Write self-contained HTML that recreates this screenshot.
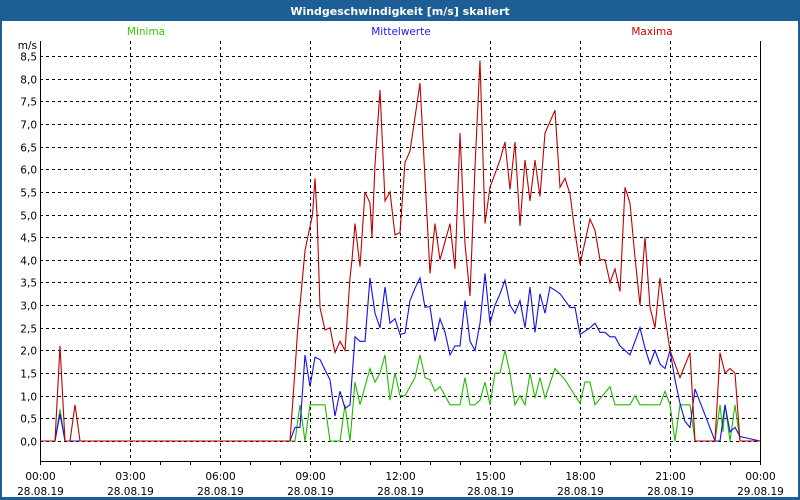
<!DOCTYPE html>
<html><head><meta charset="utf-8"><style>
html,body{margin:0;padding:0;width:800px;height:500px;overflow:hidden;background:#fff;}
svg{display:block;font-family:"DejaVu Sans","Liberation Sans",sans-serif;}
</style></head><body>
<svg id="chart" width="800" height="500">
<rect x="0" y="0" width="800" height="500" fill="#1e5e96"/>
<rect x="2" y="21" width="796" height="476" fill="#fff"/>
<text x="400" y="15" text-anchor="middle" fill="#fff" font-size="11" font-weight="bold">Windgeschwindigkeit [m/s] skaliert</text>
<text x="146" y="35" text-anchor="middle" fill="#33cc00" font-size="10.5">Minima</text>
<text x="401" y="35" text-anchor="middle" fill="#2020ff" font-size="10.5">Mittelwerte</text>
<text x="652" y="35" text-anchor="middle" fill="#cc0000" font-size="10.5">Maxima</text>
<text x="37" y="49" text-anchor="end" fill="#000" font-size="10.5">m/s</text>
<g id="grid"></g>
<g id="axes"></g>
<g id="series"></g>
</svg>
<script>
// time in 10-minute slots since 28.08.19 00:00
const yTicks = ["0,0","0,5","1,0","1,5","2,0","2,5","3,0","3,5","4,0","4,5","5,0","5,5","6,0","6,5","7,0","7,5","8,0","8,5"];
const xTickTimes = ["00:00","03:00","06:00","09:00","12:00","15:00","18:00","21:00","00:00"];
const xTickDates = ["28.08.19","28.08.19","28.08.19","28.08.19","28.08.19","28.08.19","28.08.19","28.08.19","29.08.19"];

const maxSlots = [0,3,4,5,6,7,8,50,51,51.5,53,54.5,55,55.4,56,57,58,59,60,61,62,62.4,63,64,65,66,66.4,67,68,69,70,71,72,73,74,75,76,77,78,79,80,81,82,83,84,85,86,87,88,89,90,91,92,93,94,95,96,97,98,99,100,101,102,103,104,105,106,107,108,109,110,111,112,113,114,115,116,117,118,119,120,121,122,123,124,125,126,128,130,131,135,136,137,138,139,140,144];
const maxVals  = [0,0,2.1,0,0,0.8,0,0,1.57,2.4,4.2,5.0,5.8,5.0,2.95,2.45,2.5,1.95,2.2,2.0,3.6,4.0,4.8,3.85,5.5,5.25,4.5,6.1,7.75,5.3,5.5,4.55,4.6,6.15,6.4,7.15,7.9,5.8,3.7,4.8,4.0,4.4,4.8,3.8,6.8,4.35,3.2,6.05,8.4,4.8,5.6,5.9,6.2,6.6,5.55,6.6,4.75,6.2,5.3,6.2,5.4,6.8,7.05,7.3,5.6,5.8,5.45,4.6,3.9,4.4,4.9,4.65,4.0,4.0,3.5,3.8,3.3,5.6,5.25,4.05,3.0,4.5,2.95,2.5,3.6,2.75,2.0,1.4,1.95,0,0,1.95,1.5,1.6,1.5,0,0];

const avgSlots = [0,3,4,5,50,51,52,53,54,55,56,57,58,59,60,61,62,63,64,65,66,67,68,69,70,71,72,73,74,75,76,77,78,79,80,81,82,83,84,85,86,87,88,89,90,91,92,93,94,95,96,97,98,99,100,101,102,103,104,105,106,107,108,110,111,112,113,114,115,116,117,118,119,120,121,122,123,124,125,126,127,128,129,130,131,135,136,137,138,139,140,144];
const avgVals  = [0,0,0.6,0,0,0.3,0.3,1.9,1.2,1.85,1.8,1.57,1.35,0.55,1.1,0.72,0.8,2.3,2.2,2.2,3.6,2.82,2.5,3.4,2.6,2.7,2.35,2.38,3.1,3.37,3.6,2.95,2.97,2.2,2.7,2.4,1.9,2.1,2.1,3.1,2.2,2.0,2.6,3.7,2.6,3.0,3.25,3.55,3.0,2.82,3.1,2.5,3.4,2.4,3.25,2.82,3.4,3.33,3.25,3.1,2.95,2.95,2.35,2.5,2.6,2.4,2.4,2.3,2.3,2.1,2.0,1.9,2.2,2.5,2.05,1.7,2.0,1.7,1.6,2.0,1.35,0.83,0.43,0.3,1.15,0,0,0.8,0.2,0.3,0.1,0,0];

const minSlots = [0,3,4,5,51,52,53,54,57,58,60,61,62,63,64,66,67,68,69,70,71,72,73,75,76,77,78,79,80,82,84,85,86,87,88,89,90,91,92,93,94,95,96,97,98,99,100,101,103,105,108,109,110,111,114,115,118,119,120,122,124,125,126,127,128,129,130,131,135,136,136.6,137,138,139,140,144];
const minVals  = [0,0,0.7,0,0,0.8,0,0.8,0.8,0,0,0.8,0,1.3,0.8,1.6,1.3,1.5,1.9,0.9,1.5,1.0,1.0,1.4,1.9,1.4,1.35,1.1,1.2,0.8,0.8,1.4,0.8,0.8,0.9,1.3,0.8,1.5,1.5,2.0,1.5,0.8,1.0,0.8,1.5,0.95,1.4,0.95,1.6,1.35,0.83,1.3,1.3,0.8,1.2,0.8,0.8,1.0,0.8,0.8,0.8,1.1,0.8,0,0.8,0.8,0.8,0,0,0.8,0.2,0.8,0,0.8,0,0];

const NS = "http://www.w3.org/2000/svg";
const X0 = 40, X1 = 760, Y0 = 441, PER = 45.3;
function xScale(slot){ return X0 + slot * (X1 - X0) / 144; }
function yScale(v){ return Y0 - v * PER; }
function mk(tag, attrs, parent){
  const e = document.createElementNS(NS, tag);
  for (const k in attrs) e.setAttribute(k, attrs[k]);
  parent.appendChild(e); return e;
}
const grid = document.getElementById('grid');
const axes = document.getElementById('axes');
const series = document.getElementById('series');

yTicks.forEach((t, i) => {
  const y = Math.round(yScale(i * 0.5)) + 0.5;
  const l = mk('line', {x1: X0, x2: X1, y1: y, y2: y, stroke: '#000', 'stroke-width': 1, 'stroke-dasharray': '3,3'}, grid);
  
  
  const tx = mk('text', {x: 37, y: y + 4, 'text-anchor': 'end', 'font-size': 10.5, fill: '#000'}, axes);
  tx.textContent = t;
  
  
});
xTickTimes.forEach((t, i) => {
  const x = Math.round(xScale(i * 18)) + 0.5;
  if (i > 0 && i < 8) {
    const l = mk('line', {x1: x, x2: x, y1: 41, y2: 461, stroke: '#000', 'stroke-width': 1, 'stroke-dasharray': '3,3'}, grid);
    
    
  }
  const a = mk('text', {x: x, y: 480, 'text-anchor': 'middle', 'font-size': 10.5, fill: '#000'}, axes);
  a.textContent = t;
  
  
  const b = mk('text', {x: x, y: 495, 'text-anchor': 'middle', 'font-size': 10.5, fill: '#000'}, axes);
  b.textContent = xTickDates[i];
  
  
});
for (let h = 0; h <= 24; h++) {
  const x = Math.round(xScale(h * 6)) + 0.5;
  const t = mk('line', {x1: x, x2: x, y1: 461, y2: 465, stroke: '#000'}, axes);
  
  
}
const frame = mk('path', {d: 'M40.5 41 V461.5 H760.5 V41', fill: 'none', stroke: '#000', 'stroke-width': 1}, axes);



function drawLine(slots, vals, color, name){
  const pts = slots.map((s, i) => xScale(s).toFixed(1) + ',' + yScale(vals[i]).toFixed(1)).join(' ');
  const p = mk('polyline', {points: pts, fill: 'none', stroke: color, 'stroke-width': 1.1}, series);
  
  
}
drawLine(minSlots, minVals, '#22bb00', 'series-minima');
drawLine(avgSlots, avgVals, '#1010ee', 'series-mittelwerte');
drawLine(maxSlots, maxVals, '#c00000', 'series-maxima');
</script>
</body></html>
